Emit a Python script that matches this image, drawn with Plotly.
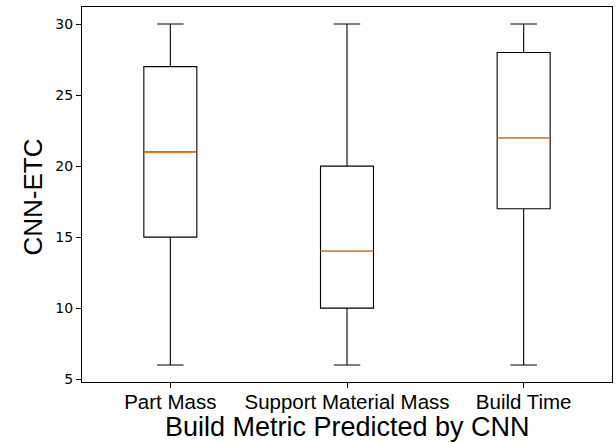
import plotly.graph_objects as go

categories = ["Part Mass", "Support Material Mass", "Build Time"]
positions = [1, 2, 3]
lower_whisker = [6, 6, 6]
q1_values = [15, 10, 17]
medians = [21, 14, 22]
q3_values = [27, 20, 28]
upper_whisker = [30, 30, 30]
y_ticks = [5, 10, 15, 20, 25, 30]

BOX_W = 0.3

fig = go.Figure()
for pos, name, lo, q1, med, q3, hi in zip(positions, categories, lower_whisker,
                                           q1_values, medians, q3_values, upper_whisker):
    fig.add_trace(go.Box(
        x=[pos], q1=[q1], median=[med], q3=[q3],
        lowerfence=[lo], upperfence=[hi],
        width=BOX_W, whiskerwidth=0.5,
        fillcolor="rgba(255,255,255,0)",
        line=dict(color="black", width=1.1),
        boxpoints=False, name=name, showlegend=False,
    ))

mx, my = [], []
for pos, med in zip(positions, medians):
    mx += [pos - BOX_W / 2, pos + BOX_W / 2, None]
    my += [med, med, None]
fig.add_trace(go.Scatter(x=mx, y=my, mode="lines",
                         line=dict(color="#ff7f0e", width=1.5),
                         showlegend=False, hoverinfo="skip"))

fig.update_layout(
    width=616, height=443,
    margin=dict(l=82, r=4, t=7, b=61, autoexpand=False),
    paper_bgcolor="white", plot_bgcolor="white",
    showlegend=False,
    annotations=[
        dict(text="Build Metric Predicted by CNN", xref="paper", yref="paper",
             x=0.5, y=0, xanchor="center", yanchor="top", yshift=-28,
             showarrow=False,
             font=dict(family="Liberation Sans, Arial", size=27, color="black")),
        dict(text="CNN-ETC", xref="paper", yref="paper",
             x=0, y=0.5, xanchor="center", yanchor="middle", xshift=-50, yshift=-3,
             textangle=-90, showarrow=False,
             font=dict(family="Liberation Sans, Arial", size=26, color="black")),
    ],
)
fig.update_xaxes(
    range=[0.5, 3.5], tickmode="array", tickvals=positions, ticktext=categories,
    showline=True, mirror=True, linecolor="black", linewidth=1,
    ticks="outside", ticklen=5, tickcolor="black", showgrid=False, zeroline=False,
    automargin=False, ticklabelstandoff=-4,
    tickfont=dict(family="Liberation Sans, Arial", size=20.5, color="black"),
)
fig.update_yaxes(
    range=[4.8, 31.2], tickmode="array", tickvals=y_ticks,
    showline=True, mirror=True, linecolor="black", linewidth=1,
    ticks="outside", ticklen=5, tickcolor="black", showgrid=False, zeroline=False,
    automargin=False,
    tickfont=dict(family="DejaVu Sans", size=14, color="black"),
)

fig.write_html("out.html", config={"displayModeBar": False},
               post_script="document.body.style.margin='0';")
